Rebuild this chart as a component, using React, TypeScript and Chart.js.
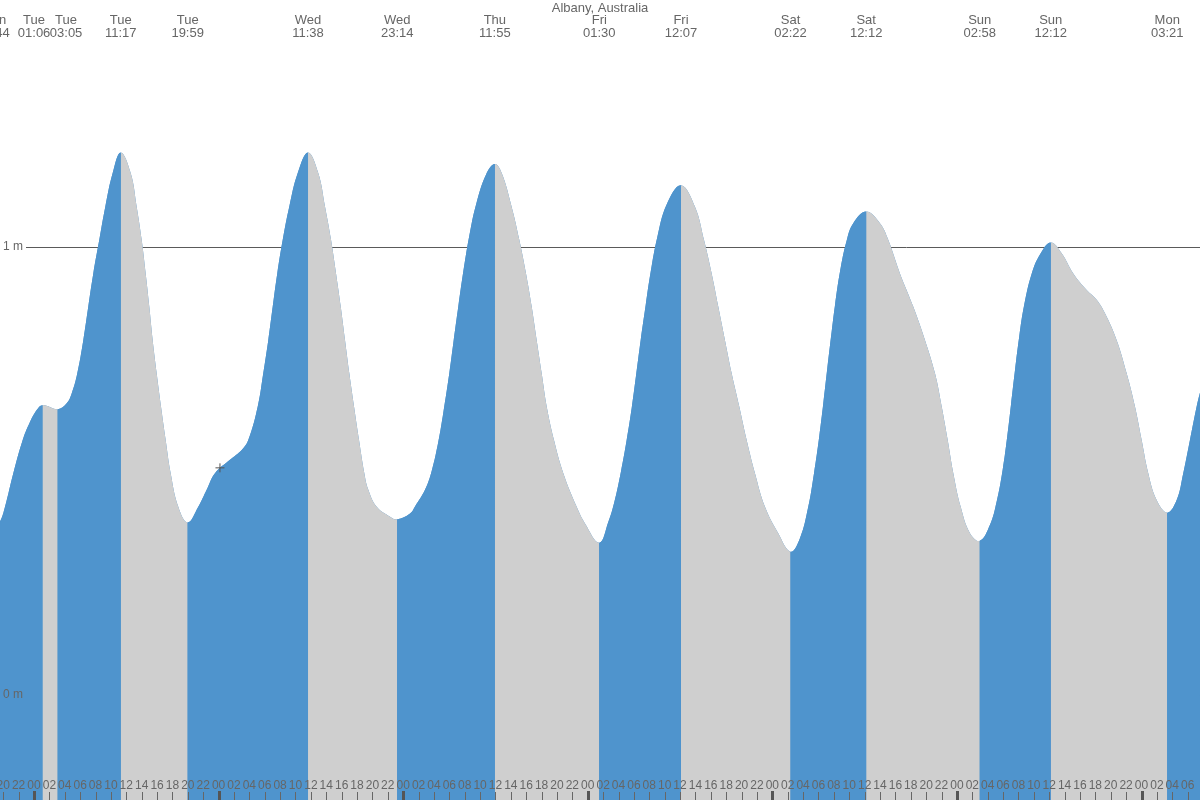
import React, { useEffect, useRef } from 'react';
import { Chart, registerables } from 'chart.js';

Chart.register(...registerables);

// Hours are counted from Tuesday 00:00.
const tideHours = [
  -5.27, -4.42, -3.77, -2.69, -1.47, -0.61, 0.35, 1.10, 3.08, 4.25, 4.90, 5.63, 6.41, 7.06, 7.71, 8.49, 9.27, 10.23,
  11.28, 12.57, 13.35, 14.00, 14.52, 14.99, 15.43, 15.95, 16.51, 17.12, 17.77, 18.76, 19.98, 21.36, 22.45, 23.53,
  25.48, 27.01, 27.86, 29.09, 29.81, 30.46, 31.04, 31.63, 32.34, 33.19, 34.29, 35.63, 36.96, 37.84, 38.62, 39.27,
  39.88, 40.44, 41.00, 41.61, 42.26, 42.95, 43.47, 44.56, 46.29, 47.23, 48.89, 49.54, 50.84, 51.71, 52.57, 53.22,
  54.00, 54.52, 55.17, 55.82, 56.60, 57.48, 58.78, 59.92, 60.81, 62.10, 63.10, 63.97, 64.71, 65.36, 66.01, 66.66,
  67.61, 68.82, 70.56, 71.64, 73.50, 74.67, 75.45, 76.32, 77.06, 77.71, 78.27, 78.88, 79.53, 80.18, 81.04, 82.26,
  84.12, 85.94, 87.11, 88.11, 88.97, 89.84, 90.71, 91.70, 92.66, 93.74, 95.04, 96.77, 98.37, 99.59, 100.67, 101.42,
  102.10, 102.62, 103.14, 103.72, 104.14, 104.79, 105.66, 106.52, 108.20, 109.99, 111.07, 112.59, 114.32, 115.85,
  117.15, 118.02, 118.80, 119.53, 120.49, 121.70, 122.97, 124.30, 125.17, 125.95, 126.55, 127.03, 127.55, 128.11,
  128.72, 129.72, 130.80, 132.20, 133.62, 135.13, 136.87, 138.17, 139.25, 140.77, 142.07, 143.15, 144.02, 144.88,
  145.97, 147.35, 148.57, 149.43, 150.30, 151.17, 151.60,
];

const tideHeights = [
  0.370, 0.387, 0.420, 0.495, 0.569, 0.606, 0.636, 0.647, 0.638, 0.651, 0.673, 0.718, 0.792, 0.867, 0.941, 1.016, 1.090, 1.165,
  1.211, 1.165, 1.090, 1.016, 0.941, 0.867, 0.792, 0.718, 0.644, 0.569, 0.495, 0.420, 0.385, 0.420, 0.458, 0.495,
  0.525, 0.547, 0.569, 0.644, 0.718, 0.792, 0.867, 0.941, 1.016, 1.090, 1.165, 1.211, 1.165, 1.090, 1.016, 0.941,
  0.867, 0.792, 0.718, 0.644, 0.569, 0.495, 0.458, 0.420, 0.398, 0.392, 0.405, 0.421, 0.458, 0.500, 0.565, 0.630,
  0.718, 0.785, 0.867, 0.945, 1.025, 1.095, 1.162, 1.185, 1.165, 1.090, 1.016, 0.941, 0.867, 0.792, 0.718, 0.644,
  0.569, 0.495, 0.420, 0.383, 0.340, 0.386, 0.430, 0.499, 0.569, 0.640, 0.712, 0.792, 0.870, 0.944, 1.022, 1.095,
  1.138, 1.090, 1.016, 0.941, 0.867, 0.792, 0.718, 0.644, 0.569, 0.495, 0.420, 0.361, 0.320, 0.350, 0.420, 0.495,
  0.577, 0.650, 0.728, 0.812, 0.869, 0.944, 1.014, 1.053, 1.079, 1.053, 1.016, 0.941, 0.867, 0.792,
  0.718, 0.644, 0.569, 0.495, 0.420, 0.361, 0.344, 0.380, 0.432, 0.503, 0.578, 0.648, 0.725, 0.801,
  0.868, 0.940, 0.983, 1.010, 0.986, 0.941, 0.904, 0.882, 0.852, 0.792, 0.718, 0.644, 0.569, 0.495,
  0.435, 0.407, 0.435, 0.495, 0.569, 0.644, 0.675,
];

const extremeHours = [-5.27, 1.10, 3.08, 11.28, 19.98, 35.63, 47.23, 59.92, 73.50, 84.12, 98.37, 108.20, 122.97, 132.20, 147.35];
const extremeTypes = ['L', 'H', 'L', 'H', 'L', 'H', 'L', 'H', 'L', 'H', 'L', 'H', 'L', 'H', 'L'];
const extremeDays = ['Mon', 'Tue', 'Tue', 'Tue', 'Tue', 'Wed', 'Wed', 'Thu', 'Fri', 'Fri', 'Sat', 'Sat', 'Sun', 'Sun', 'Mon'];
const extremeTimes = ['18:44', '01:06', '03:05', '11:17', '19:59', '11:38', '23:14', '11:55', '01:30', '12:07', '02:22', '12:12', '02:58', '12:12', '03:21'];

const titleText = 'Albany, Australia';
const yGridValues = [0, 1];
const yGridLabels = ['0 m', '1 m'];

const markerHour = 24.18;
const markerHeight = 0.507;

const xMin = -4.4208;
const xMax = 151.606;
const yMin = -0.2344;
const yMax = 1.5513;

const RISING = 'rgb(79,148,205)';
const FALLING = 'rgb(207,207,207)';
const TEXT = '#666666';
const FONT = '"Liberation Sans", Arial, sans-serif';
const TENSION = 0.4;

function segmentColor(ctx: any) {
  const x0 = tideHours[ctx.p0DataIndex];
  for (let i = 0; i < extremeHours.length; i++) {
    if (extremeHours[i] > x0 + 1e-6) return extremeTypes[i] === 'H' ? RISING : FALLING;
  }
  return RISING;
}

const overlayPlugin = {
  id: 'tideOverlay',
  beforeDraw(chart: any) {
    const ctx = chart.ctx;
    const y = chart.scales.y;
    ctx.save();
    ctx.strokeStyle = '#5a5a5a';
    ctx.lineWidth = 1;
    yGridValues.forEach((v) => {
      const py = Math.round(y.getPixelForValue(v)) + 0.5;
      ctx.beginPath();
      ctx.moveTo(26, py);
      ctx.lineTo(chart.width, py);
      ctx.stroke();
    });
    ctx.restore();
  },
  afterDraw(chart: any) {
    const ctx = chart.ctx;
    const xs = chart.scales.x;
    const ys = chart.scales.y;
    ctx.save();
    ctx.fillStyle = TEXT;

    // y labels
    ctx.font = '12px ' + FONT;
    ctx.textAlign = 'left';
    ctx.textBaseline = 'middle';
    yGridValues.forEach((v, i) => {
      ctx.fillText(yGridLabels[i], 3, ys.getPixelForValue(v));
    });

    // bottom hour ticks and labels
    ctx.textAlign = 'center';
    ctx.textBaseline = 'alphabetic';
    ctx.font = '12px ' + FONT;
    for (let h = Math.ceil(xMin / 2) * 2; h <= xMax; h += 2) {
      const px = xs.getPixelForValue(h);
      const hod = ((h % 24) + 24) % 24;
      const label = (hod < 10 ? '0' : '') + hod;
      ctx.fillStyle = TEXT;
      ctx.fillText(label, px, 789);
      if (hod === 0) {
        ctx.fillStyle = '#555555';
        ctx.fillRect(Math.round(px) - 1, 791, 3, 9);
      } else {
        ctx.fillStyle = '#666666';
        ctx.fillRect(Math.round(px), 792, 1, 8);
      }
    }

    // top extreme labels with simple collision spreading
    const pos = extremeHours.map((h) => xs.getPixelForValue(h));
    const minGap = 32;
    for (let i = 1; i < pos.length; i++) {
      if (pos[i] - pos[i - 1] < minGap) {
        const mid = (pos[i] + pos[i - 1]) / 2;
        pos[i - 1] = mid - minGap / 2;
        pos[i] = mid + minGap / 2;
      }
    }
    ctx.fillStyle = TEXT;
    ctx.font = '13px ' + FONT;
    ctx.textAlign = 'center';
    pos.forEach((px, i) => {
      ctx.fillText(extremeDays[i], px, 24);
      ctx.fillText(extremeTimes[i], px, 37);
    });

    // title
    ctx.fillText(titleText, chart.width / 2, 12);
    ctx.restore();
  },
};

export default function App() {
  const ref = useRef<HTMLCanvasElement>(null);
  useEffect(() => {
    document.body.style.margin = '0';
    const canvas = ref.current;
    if (!canvas) return;
    const points = tideHours.map((h, i) => ({ x: h, y: tideHeights[i] }));
    const chart = new Chart(canvas, {
      type: 'line',
      data: {
        datasets: [
          {
            label: 'now',
            data: [{ x: markerHour, y: markerHeight }],
            showLine: false,
            pointStyle: 'cross',
            pointRadius: 4.5,
            pointBorderColor: '#555555',
            pointBorderWidth: 1,
            borderColor: '#555555',
            fill: false,
            order: 0,
          } as any,
          {
            label: 'tide',
            data: points,
            fill: 'start',
            backgroundColor: RISING,
            borderColor: 'rgba(0,0,0,0)',
            borderWidth: 0,
            pointRadius: 0,
            tension: TENSION,
            segment: { backgroundColor: segmentColor },
            order: 1,
          } as any,
          {
            label: 'tide-base',
            data: points,
            fill: 'start',
            backgroundColor: RISING,
            borderColor: 'rgba(0,0,0,0)',
            borderWidth: 0,
            pointRadius: 0,
            tension: TENSION,
            order: 2,
          } as any,
        ],
      },
      options: {
        responsive: false,
        animation: false,
        devicePixelRatio: 1,
        events: [],
        layout: { padding: 0, autoPadding: false },
        plugins: {
          legend: { display: false },
          tooltip: { enabled: false },
          title: { display: false },
        },
        scales: {
          x: { type: 'linear', min: xMin, max: xMax, display: false },
          y: { type: 'linear', min: yMin, max: yMax, display: false },
        },
      },
      plugins: [overlayPlugin],
    });
    return () => chart.destroy();
  }, []);
  return (
    <div style={{ position: 'absolute', left: 0, top: 0, width: 1200, height: 800 }}>
      <canvas ref={ref} width={1200} height={800} style={{ display: 'block', width: 1200, height: 800 }} />
    </div>
  );
}
